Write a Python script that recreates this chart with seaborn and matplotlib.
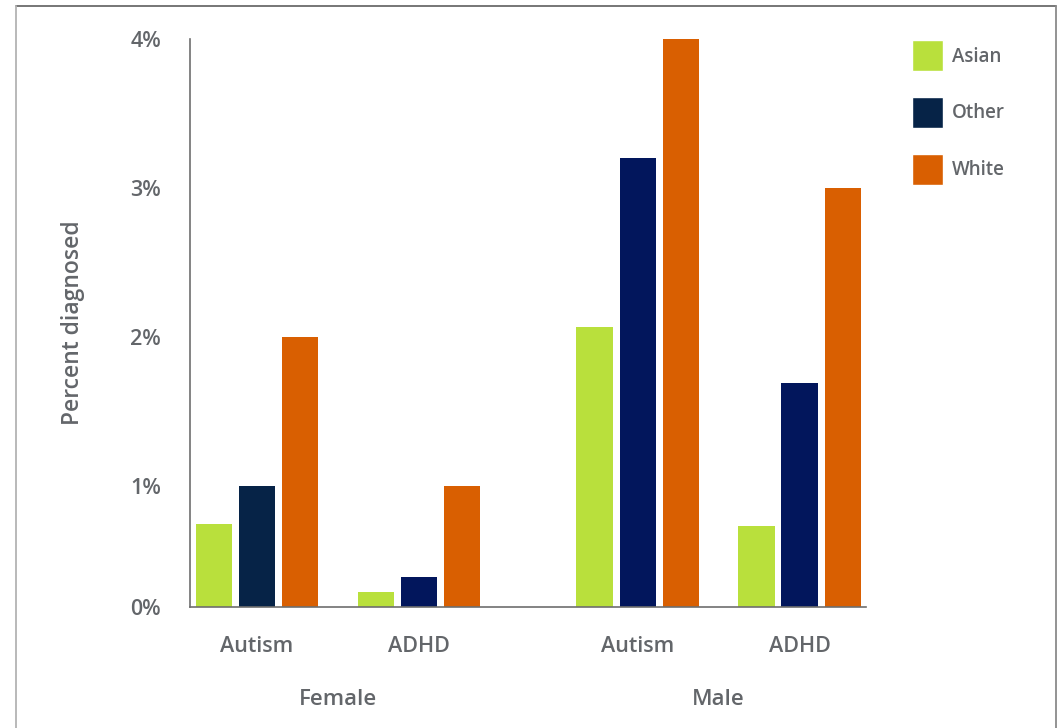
import matplotlib
matplotlib.use("Agg")
import matplotlib.pyplot as plt
from matplotlib.patches import Patch
from matplotlib.lines import Line2D
import matplotlib.transforms as mtransforms
import pandas as pd
import seaborn as sns

# ---- data (percent diagnosed) ----
genders = ["Female", "Female", "Male", "Male"]
conditions = ["Autism", "ADHD", "Autism", "ADHD"]
groups = ["Asian", "Other", "White"]
asian = [0.75, 0.29, 2.07, 0.73]
other = [1.00, 0.39, 3.20, 1.69]
white = [2.00, 1.00, 4.00, 3.00]
y_ticks = [0.19, 1, 2, 3, 4]
y_tick_labels = ["0%", "1%", "2%", "3%", "4%"]

colors = {"Asian": "#B9E03C", "Other": "#02165C", "White": "#D95F01"}
other_dark = "#062347"
text_gray = "#63666A"
spine_gray = "#6E6E6E"
font_w = "semibold"
fs = 15.5

# x position of each cluster: conditions one unit apart, extra space between genders
gender_gap = 0.35
positions = []
for i, g in enumerate(genders):
    positions.append(i + (gender_gap if g == "Male" else 0.0))

rows = []
for vals, grp in zip([asian, other, white], groups):
    for p, v in zip(positions, vals):
        rows.append({"pos": p, "value": v, "group": grp})
df = pd.DataFrame(rows)

sns.set_theme(style="white")
plt.rcParams["font.family"] = ["Open Sans", "DejaVu Sans"]

fig = plt.figure(figsize=(10.6, 7.28), dpi=100)
ax = fig.add_axes([190 / 1060, 1 - 607 / 728, 676 / 1060, 568 / 728])

sns.barplot(data=df, x="pos", y="value", hue="group", hue_order=groups,
            palette=colors, native_scale=True, width=0.8, gap=0.16,
            errorbar=None, legend=False, saturation=1, ax=ax)

# the first "Other" bar uses a deeper navy
ax.containers[1][0].set_facecolor(other_dark)
for c in ax.containers:
    for bar in c:
        bar.set_edgecolor("none")

ax.set_xlim(-0.414, positions[-1] + 0.41)
ax.set_ylim(y_ticks[0], 4.0)

for side in ["top", "right"]:
    ax.spines[side].set_visible(False)
for side in ["left", "bottom"]:
    ax.spines[side].set_color(spine_gray)
    ax.spines[side].set_linewidth(1.2)

ax.set_yticks(y_ticks)
ax.set_yticklabels(y_tick_labels)
ax.set_xticks(positions)
ax.set_xticklabels(conditions)
ax.tick_params(axis="both", length=0, labelsize=fs, labelcolor=text_gray)
ax.tick_params(axis="y", pad=32)
ax.tick_params(axis="x", pad=21)
for lab in ax.get_yticklabels():
    lab.set_ha("center")
    lab.set_fontweight(font_w)
for lab in ax.get_xticklabels():
    lab.set_fontweight(font_w)

ax.set_xlabel("")
ax.set_ylabel("Percent diagnosed", fontsize=16.5, color=text_gray,
              fontweight=font_w)
ax.yaxis.set_label_coords(-0.155, 0.5)

# gender labels centred under each pair of clusters
trans = mtransforms.blended_transform_factory(ax.transData, ax.transAxes)
for g in ["Female", "Male"]:
    xs = [p for p, gg in zip(positions, genders) if gg == g]
    ax.text(sum(xs) / len(xs), -0.162, g, transform=trans, ha="center",
            va="center", fontsize=16, color=text_gray, fontweight=font_w)

# legend
handles = [Patch(facecolor=colors["Asian"]), Patch(facecolor=other_dark),
           Patch(facecolor=colors["White"])]
leg = fig.legend(handles, groups, loc="upper left",
                 bbox_to_anchor=(912 / 1060, 1 - 40 / 728),
                 frameon=False, fontsize=13.5, handlelength=1.65,
                 handleheight=2.2, handletextpad=0.5, labelspacing=1.36,
                 borderaxespad=0, borderpad=0)
for t in leg.get_texts():
    t.set_color(text_gray)
    t.set_fontweight(font_w)

# outer frame lines
fig.add_artist(Line2D([16 / 1060, 1056 / 1060], [1 - 6 / 728, 1 - 6 / 728],
                      transform=fig.transFigure, color="#6B6B6B", lw=1.3))
fig.add_artist(Line2D([16 / 1060, 16 / 1060], [0, 1 - 6 / 728],
                      transform=fig.transFigure, color="#B3B3B3", lw=1.3))
fig.add_artist(Line2D([1056 / 1060, 1056 / 1060], [0, 1 - 6 / 728],
                      transform=fig.transFigure, color="#8A8A8A", lw=1.3))

fig.savefig("out.png", dpi=100)
